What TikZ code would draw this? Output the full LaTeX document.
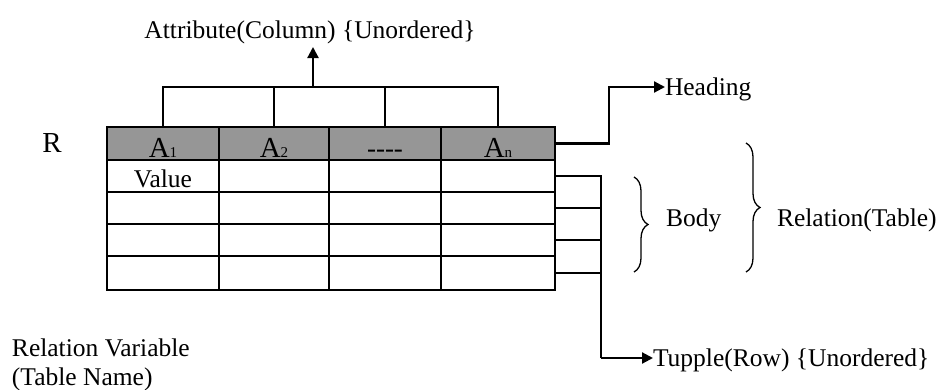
\documentclass[tikz,border=0pt]{standalone}
\usepackage{fontspec}
\setmainfont{Liberation Serif}
\usetikzlibrary{arrows.meta,decorations.pathreplacing,calc}
\definecolor{hdrgray}{HTML}{969696}
\begin{document}
\begin{tikzpicture}[x=1pt,y=-1pt,line width=2pt,
  txt/.style={inner sep=0pt,outer sep=0pt,font=\fontsize{25.5}{29}\selectfont},
  hcell/.style={draw,fill=hdrgray,inner sep=0pt,outer sep=0pt},
  bcell/.style={draw,inner sep=0pt,outer sep=0pt},
  conn/.style={line width=2.2pt},
  arr/.style={conn,-{Triangle[length=11pt,width=11pt]}},
  brc/.style={line width=1.3pt,decorate,decoration={brace,amplitude=#1}}]
\useasboundingbox (0,0) rectangle (945,389);
% header cells
\foreach \i/\l/\r in {1/107/219,2/219/329,3/329/441,4/441/555}{
  \node[hcell,minimum width={(\r-\l)*1pt},minimum height=33pt] (h\i) at ({(\l+\r)/2},143.5) {};
}
% body cells
\foreach \j/\t/\b in {1/160/192,2/192/224,3/224/256,4/256/290}{
  \foreach \i/\l/\r in {1/107/219,2/219/329,3/329/441,4/441/555}{
    \node[bcell,minimum width={(\r-\l)*1pt},minimum height={(\b-\t)*1pt}] (b\j\i) at ({(\l+\r)/2},{(\t+\b)/2}) {};
  }
}
% header texts
\node[txt,anchor=base] (a1) at (h1.center |- 0,157) {\fontsize{29}{29}\selectfont A\fontsize{15}{15}\selectfont 1};
\node[txt,anchor=base] (a2) at (h2.center |- 0,157) {\fontsize{29}{29}\selectfont A\fontsize{15}{15}\selectfont 2};
\node[txt,anchor=base] (a3) at (h3.center |- 0,157) {\fontsize{27}{27}\selectfont -{}-{}-{}-};
\node[txt,anchor=base] (a4) at (h4.center |- 0,157) {\fontsize{29}{29}\selectfont A\fontsize{15}{15}\selectfont n};
\node[txt,anchor=base] (val) at (b11.center |- 0,187) {Value};
% labels
\node[txt,anchor=base,font=\fontsize{29}{29}\selectfont] (R) at (52,152) {R};
\node[txt,anchor=base] (attr) at (310,38) {Attribute(Column) \{Unordered\}};
\node[txt,anchor=base west] (head) at (665,95) {Heading};
\node[txt,anchor=base west] (body) at (666,226) {Body};
\node[txt,anchor=base west] (rel) at (777,226) {Relation(Table)};
\node[txt,anchor=base west] (tup) at (653,366) {Tupple(Row) \{Unordered\}};
\node[txt,anchor=base west] (rv1) at (12,356) {Relation Variable};
\node[txt,anchor=base west] (rv2) at (12,385) {(Table Name)};
% attribute bracket
\coordinate (top) at (313,87);
\draw[conn] (h1.north) |- (top) -| (h4.north);
\draw[conn] (h2.north) -- (h2.north |- top);
\draw[conn] (h3.north) -- (h3.north |- top);
\draw[arr] (top) -- (313,47);
% heading connector
\coordinate (hk) at (609,87);
\draw[arr] (h4.east) -| (hk) -- (head.west |- hk);
% tuple connectors
\coordinate (tv) at (601,358);
\draw[conn] (b14.east) -| (tv);
\foreach \j in {2,3,4}{\draw[conn] (b\j4.east) -- (b\j4.east -| tv);}
\draw[arr] (tv) -- (tup.west |- tv);
% braces
\draw[brc=14pt] (634,177) -- (634,272);
\draw[brc=14pt] (746,143) -- (746,272);
\end{tikzpicture}
\end{document}
